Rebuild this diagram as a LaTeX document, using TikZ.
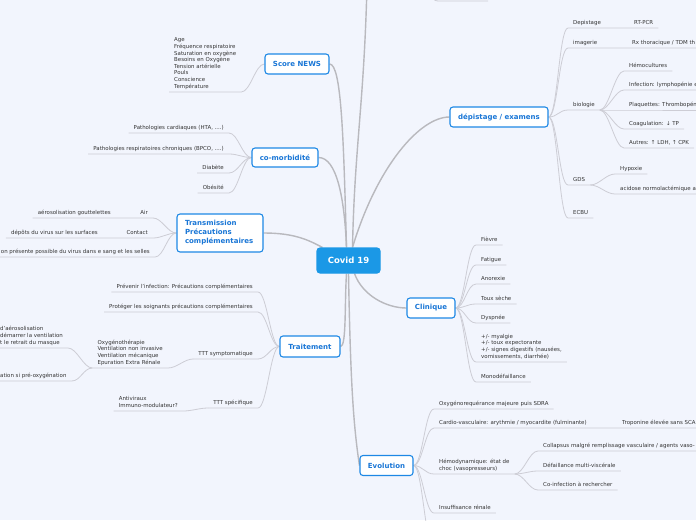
\documentclass[tikz,border=0pt]{standalone}
\usepackage{fontspec}
\setmainfont{DejaVu Sans}
\usepackage{tikz}
\usetikzlibrary{backgrounds}
\usepackage{xcolor}

\definecolor{bgblue}{RGB}{242,245,253}
\definecolor{mainblue}{RGB}{30,136,229}
\definecolor{textblue}{RGB}{25,118,214}
\definecolor{covidblue}{RGB}{27,152,230}
\definecolor{leafgray}{RGB}{51,51,51}
\definecolor{twiggray}{RGB}{205,205,213}
\definecolor{branchgray}{RGB}{185,185,190}

\tikzset{
  topic/.style={rectangle, draw=mainblue, line width=1.1pt, fill=white, rounded corners=3pt, text=textblue, font=\bfseries\fontsize{7}{9}\selectfont, minimum height=20pt, inner xsep=7pt, align=center},
  leaf/.style={text=leafgray, font=\fontsize{5.45}{6.6}\selectfont, inner xsep=5pt, inner ysep=2.5pt, text depth=1.3pt, align=left},
  twig/.style={draw=twiggray, line width=0.8pt},
  branch/.style={draw=branchgray, line width=1.4pt},
  fanR/.style={to path={.. controls +(9,0) and +(-9,0) .. (\tikztotarget)}},
  fanL/.style={to path={.. controls +(-9,0) and +(9,0) .. (\tikztotarget)}}
}

\begin{document}
\begin{tikzpicture}[x=1pt, y=-1pt]

  \useasboundingbox (0,0) rectangle (696,520);
  \clip (0,0) rectangle (696,520);

  % Topics
  \node[topic, fill=covidblue, draw=covidblue, text=white, font=\bfseries\fontsize{8.5}{10}\selectfont, minimum width=63pt, minimum height=25pt] (covid) at (348.5,260.5) {Covid 19};
  \node[topic, minimum width=64pt] (news) at (297,64) {Score NEWS};
  \node[topic, minimum width=66pt, minimum height=19pt] (como) at (285,157.5) {co-morbidité};
  \node[topic, align=left, text width=70pt, inner xsep=8pt, minimum height=38pt] (trans) at (220,233) {Transmission\\Précautions\\complémentaires};
  \node[topic, minimum width=60pt, minimum height=21pt] (trait) at (310,346.5) {Traitement};
  \node[topic, minimum width=98pt] (dep) at (499,117) {dépistage / examens};
  \node[topic, minimum width=48pt] (clin) at (431,308) {Clinique};
  \node[topic, minimum width=53pt] (evol) at (386.5,465.5) {Evolution};

  % Score NEWS
  \node[leaf, anchor=south west] (newsl) at (169,92) {Age\\Fréquence respiratoire\\Saturation en oxygène\\Besoins en Oxygène\\Tension artérielle\\Pouls\\Conscience\\Température};

  % co-morbidite
  \node[leaf, anchor=south east] (pcard) at (229,133) {Pathologies cardiaques (HTA, ....)};
  \node[leaf, anchor=south east] (presp) at (229,154) {Pathologies respiratoires chroniques (BPCO, ....)};
  \node[leaf, anchor=south east] (diab) at (229,173) {Diabète};
  \node[leaf, anchor=south east] (obes) at (229,193) {Obésité};

  % Transmission
  \node[leaf, anchor=south east] (air) at (153,218) {Air};
  \node[leaf, anchor=south east] (aero) at (116,218) {aérosolisation gouttelettes};
  \node[leaf, anchor=south east] (contact) at (153,238) {Contact};
  \node[leaf, anchor=south east] (depots) at (103,238) {dépôts du virus sur les surfaces};
  \node[leaf, anchor=south east] (sang) at (155,257) {on présente possible du virus dans e sang et les selles};

  % Traitement
  \node[leaf, anchor=south east] (prev) at (258,292) {Prévenir l'infection: Précautions complémentaires};
  \node[leaf, anchor=south east] (prot) at (258,312) {Protéger les soignants précautions complémentaires};
  \node[leaf, anchor=south east] (ttts) at (258,359) {TTT symptomatique};
  \node[leaf, anchor=south east] (oxy) at (168,368) {Oxygénothérapie\\Ventilation non invasive\\Ventilation mécanique\\Epuration Extra Rénale};
  \node[leaf, anchor=south west] (aerosol) at (-5,348) {d'aérosolisation\\démarrer la ventilation\\t le retrait du masque};
  \node[leaf, anchor=south west] (preox) at (-5,381) {ation si pré-oxygénation};
  \node[leaf, anchor=south east] (ttsp) at (258,408) {TTT spécifique};
  \node[leaf, anchor=south east] (antivir) at (183,411) {Antiviraux\\Immuno-modulateur?};

  % depistage / examens
  \node[leaf, anchor=south west] (dpi) at (568,28) {Depistage};
  \node[leaf, anchor=south west] (rtpcr) at (629,28) {RT-PCR};
  \node[leaf, anchor=south west] (img) at (568,48) {imagerie};
  \node[leaf, anchor=south west] (rx) at (627,48) {Rx thoracique / TDM th};
  \node[leaf, anchor=south west] (bio) at (568,110) {biologie};
  \node[leaf, anchor=south west] (hemoc) at (624,71) {Hémocultures};
  \node[leaf, anchor=south west] (lympho) at (624,90) {Infection: lymphopénie e};
  \node[leaf, anchor=south west] (plaq) at (624,110) {Plaquettes: Thrombopén};
  \node[leaf, anchor=south west] (coag) at (624,129) {Coagulation: ↓ TP};
  \node[leaf, anchor=south west] (autres) at (624,148) {Autres: ↑ LDH, ↑ CPK};
  \node[leaf, anchor=south west] (gds) at (568,185) {GDS};
  \node[leaf, anchor=south west] (hypox) at (615,174) {Hypoxie};
  \node[leaf, anchor=south west] (acid) at (615,194) {acidose normolactémique a};
  \node[leaf, anchor=south west] (ecbu) at (568,218) {ECBU};

  % Clinique
  \node[leaf, anchor=south west] (fievre) at (476,245) {Fièvre};
  \node[leaf, anchor=south west] (fatigue) at (476,265) {Fatigue};
  \node[leaf, anchor=south west] (anorex) at (476,284) {Anorexie};
  \node[leaf, anchor=south west] (toux) at (476,304) {Toux sèche};
  \node[leaf, anchor=south west] (dyspn) at (476,323) {Dyspnée};
  \node[leaf, anchor=south west] (signes) at (476,362) {+/- myalgie\\+/- toux expectorante\\+/- signes digestifs (nausées,\\vomissements, diarrhée)};
  \node[leaf, anchor=south west] (mono) at (476,382) {Monodéfaillance};

  % Evolution
  \node[leaf, anchor=south west] (sdra) at (434,409) {Oxygénorequérance majeure puis SDRA};
  \node[leaf, anchor=south west] (cardio) at (434,428) {Cardio-vasculaire: arythmie / myocardite (fulminante)};
  \node[leaf, anchor=south west] (tropo) at (617,428) {Troponine élevée sans SCA};
  \node[leaf, anchor=south west] (hemody) at (434,474) {Hémodynamique: état de\\choc (vasopresseurs)};
  \node[leaf, anchor=south west] (collap) at (538,451) {Collapsus malgré remplissage vasculaire / agents vaso-};
  \node[leaf, anchor=south west] (defaill) at (538,471) {Défaillance multi-viscérale};
  \node[leaf, anchor=south west] (coinf) at (538,490) {Co-infection à rechercher};
  \node[leaf, anchor=south west] (insuf) at (434,513) {Insuffisance rénale};

  % Free ends leaving the page
  \coordinate (upper) at (367,-15);
  \coordinate (upfan) at (426,-12);
  \coordinate (upleafa) at (438,1);
  \coordinate (upleafb) at (488,1);
  \coordinate (evolnext) at (434,548);

  \begin{scope}[on background layer]
    \clip (0,0) rectangle (696,520);
    \fill[bgblue] (0,0) rectangle (696,520);

    % Branches
    \draw[branch] (news.east) .. controls +(12,0) and +(-3,-110) .. ([xshift=-2pt]covid.north);
    \draw[branch] (como.east) .. controls +(18,0) and +(-2,-50) .. ([xshift=-2pt]covid.north);
    \draw[branch] (trans.east) .. controls +(30,0) and +(-15,-8) .. ([xshift=-26pt]covid.north);
    \draw[branch] ([xshift=4pt]covid.north) .. controls +(2,-100) and +(-3,120) .. (upper);
    \draw[branch] ([xshift=4pt]covid.north) .. controls +(24,-80) and +(-30,0) .. (dep.west);
    \draw[branch] (trait.east) .. controls +(6,0) and +(-2,30) .. ([xshift=-2pt]covid.south);
    \draw[branch] ([xshift=6pt]covid.south) .. controls +(8,22) and +(-20,0) .. (clin.west);
    \draw[branch] (covid.south) .. controls +(2,110) and +(-6,-40) .. (evol.west);

    % Score NEWS
    \draw[twig] (news.west) to[fanL] (newsl.south east) -- (newsl.south west);

    % co-morbidite
    \draw[twig] (como.west) to[fanL] (pcard.south east) -- (pcard.south west);
    \draw[twig] (como.west) to[fanL] (presp.south east) -- (presp.south west);
    \draw[twig] (como.west) to[fanL] (diab.south east) -- (diab.south west);
    \draw[twig] (como.west) to[fanL] (obes.south east) -- (obes.south west);

    % Transmission
    \draw[twig] (trans.west) to[fanL] (air.south east) -- (aero.south west);
    \draw[twig] (trans.west) to[fanL] (contact.south east) -- (depots.south west);
    \draw[twig] (trans.west) to[fanL] (sang.south east) -- (sang.south west);

    % Traitement
    \draw[twig] (trait.west) to[fanL] (prev.south east) -- (prev.south west);
    \draw[twig] (trait.west) to[fanL] (prot.south east) -- (prot.south west);
    \draw[twig] (trait.west) to[fanL] (ttts.south east) -- (ttts.south west);
    \draw[twig] (trait.west) to[fanL] (ttsp.south east) -- (ttsp.south west);
    \draw[twig] (ttts.south west) to[fanL] (oxy.south east) -- (oxy.south west);
    \draw[twig] (oxy.south west) to[fanL] (aerosol.south east) -- (aerosol.south west);
    \draw[twig] (oxy.south west) to[fanL] (preox.south east) -- (preox.south west);
    \draw[twig] (ttsp.south west) to[fanL] (antivir.south east) -- (antivir.south west);

    % depistage / examens
    \draw[twig] (dep.east) to[fanR] (dpi.south west) -- (rtpcr.south east);
    \draw[twig] (dep.east) to[fanR] (img.south west) -- (rx.south east);
    \draw[twig] (dep.east) to[fanR] (bio.south west) -- (bio.south east);
    \draw[twig] (bio.south east) to[fanR] (hemoc.south west) -- (hemoc.south east);
    \draw[twig] (bio.south east) to[fanR] (lympho.south west) -- (lympho.south east);
    \draw[twig] (bio.south east) to[fanR] (plaq.south west) -- (plaq.south east);
    \draw[twig] (bio.south east) to[fanR] (coag.south west) -- (coag.south east);
    \draw[twig] (bio.south east) to[fanR] (autres.south west) -- (autres.south east);
    \draw[twig] (dep.east) to[fanR] (gds.south west) -- (gds.south east);
    \draw[twig] (gds.south east) to[fanR] (hypox.south west) -- (hypox.south east);
    \draw[twig] (gds.south east) to[fanR] (acid.south west) -- (acid.south east);
    \draw[twig] (dep.east) to[fanR] (ecbu.south west) -- (ecbu.south east);
    \draw[twig] (upfan) to[fanR] (upleafa) -- (upleafb);

    % Clinique
    \draw[twig] (clin.east) to[fanR] (fievre.south west) -- (fievre.south east);
    \draw[twig] (clin.east) to[fanR] (fatigue.south west) -- (fatigue.south east);
    \draw[twig] (clin.east) to[fanR] (anorex.south west) -- (anorex.south east);
    \draw[twig] (clin.east) to[fanR] (toux.south west) -- (toux.south east);
    \draw[twig] (clin.east) to[fanR] (dyspn.south west) -- (dyspn.south east);
    \draw[twig] (clin.east) to[fanR] (signes.south west) -- (signes.south east);
    \draw[twig] (clin.east) to[fanR] (mono.south west) -- (mono.south east);

    % Evolution
    \draw[twig] (evol.east) to[fanR] (sdra.south west) -- (sdra.south east);
    \draw[twig] (evol.east) to[fanR] (cardio.south west) -- (tropo.south east);
    \draw[twig] (evol.east) to[fanR] (hemody.south west) -- (hemody.south east);
    \draw[twig] (hemody.south east) to[fanR] (collap.south west) -- (collap.south east);
    \draw[twig] (hemody.south east) to[fanR] (defaill.south west) -- (defaill.south east);
    \draw[twig] (hemody.south east) to[fanR] (coinf.south west) -- (coinf.south east);
    \draw[twig] (evol.east) to[fanR] (insuf.south west) -- (insuf.south east);
    \draw[twig] (evol.east) to[fanR] (evolnext);
  \end{scope}

\end{tikzpicture}
\end{document}
